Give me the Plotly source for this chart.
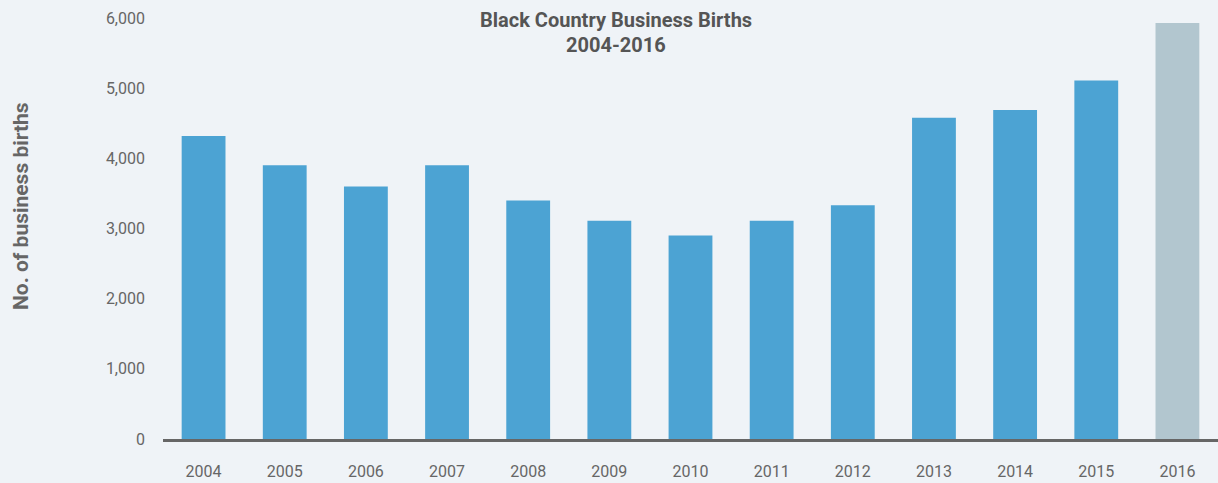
import plotly.graph_objects as go

# Annual business births in the Black Country
years = ["2004", "2005", "2006", "2007", "2008", "2009", "2010",
         "2011", "2012", "2013", "2014", "2015", "2016"]
births = [4320, 3900, 3600, 3900, 3400, 3110, 2900,
          3110, 3330, 4580, 4690, 5110, 5930]

y_ticks = [0, 1000, 2000, 3000, 4000, 5000, 6000]

BLUE = "#4ca3d3"
GREY_BLUE = "#b2c6cf"
bar_colors = [BLUE] * (len(years) - 1) + [GREY_BLUE]

W, H = 1218, 483
M_L, M_R, M_T, M_B = 163, 0, 18, 44
PLOT_W = W - M_L - M_R
PLOT_H = H - M_T - M_B


def px_to_paper_x(px):
    return (px - M_L) / PLOT_W


def px_to_paper_y(py):
    return (H - M_B - py) / PLOT_H


fig = go.Figure(
    go.Bar(
        x=years,
        y=births,
        marker=dict(color=bar_colors, line=dict(width=0)),
        width=0.54,
        hoverinfo="x+y",
    )
)

fig.update_layout(
    width=W,
    height=H,
    margin=dict(l=M_L, r=M_R, t=M_T, b=M_B, autoexpand=False),
    paper_bgcolor="#eff3f7",
    plot_bgcolor="#eff3f7",
    font=dict(family="Roboto", color="#666666", size=16),
    showlegend=False,
)

fig.update_xaxes(
    type="category",
    range=[-0.5, 12.5],
    automargin=False,
    showgrid=False,
    showline=True,
    linecolor="#666666",
    linewidth=3,
    ticks="",
    ticklabelstandoff=16,
    tickfont=dict(size=16, color="#666666"),
    zeroline=False,
)

fig.update_yaxes(
    range=[0, 6000],
    automargin=False,
    tickvals=y_ticks,
    tickformat=",",
    showgrid=False,
    showline=False,
    zeroline=False,
    ticks="",
    ticklabelstandoff=17,
    tickfont=dict(size=16, color="#666666"),
)

# Two-line chart title
title_lines = ["Black Country Business Births", "2004-2016"]
for line, cy in zip(title_lines, [20, 45]):
    fig.add_annotation(
        text=f"<b>{line}</b>",
        xref="paper",
        yref="paper",
        x=px_to_paper_x(616),
        y=px_to_paper_y(cy),
        xanchor="center",
        yanchor="middle",
        showarrow=False,
        font=dict(family="Roboto", size=20, color="#555555"),
    )

# Y-axis title
fig.add_annotation(
    text="<b>No. of business births</b>",
    xref="paper",
    yref="paper",
    x=px_to_paper_x(21),
    y=px_to_paper_y(206),
    xanchor="center",
    yanchor="middle",
    textangle=-90,
    showarrow=False,
    font=dict(family="Roboto", size=21, color="#666666"),
)

fig.write_html("out.html")
